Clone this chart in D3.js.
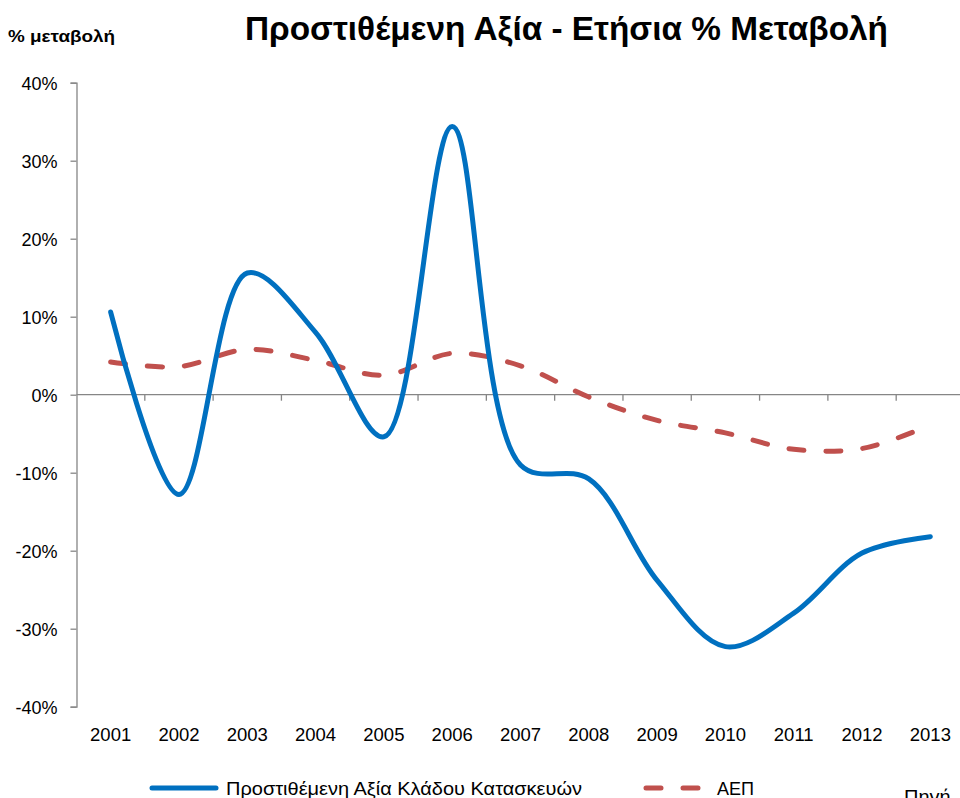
<!DOCTYPE html>
<meta charset="utf-8">
<style>
body { margin: 0; background: #fff; }
text { font-family: "Liberation Sans", Arial, sans-serif; fill: #000; }
.axis path, .axis line { stroke: #868686; stroke-width: 1.3px; }
.line { fill: none; stroke-width: 5px; stroke-linecap: round; stroke-linejoin: round; }
</style>
<body>
<script src="https://d3js.org/d3.v7.min.js"></script>
<script>

// data
var years = ["2001","2002","2003","2004","2005","2006","2007","2008","2009","2010","2011","2012","2013"];
var constructionVA = [10.6, -12.8, 15.6, 8.0, -5.4, 34.4, -9.0, -10.8, -23.8, -32.3, -28.0, -20.3, -18.2];
var gdp = [4.2, 3.6, 5.8, 4.4, 2.5, 5.3, 3.7, -0.3, -3.3, -4.9, -7.0, -6.9, -3.9];
var yTicks = [-40, -30, -20, -10, 0, 10, 20, 30, 40];
var seriesNames = ["Προστιθέμενη Αξία Κλάδου Κατασκευών", "ΑΕΠ"];

var width = 960, height = 798;

var svg = d3.select("body").append("svg")
    .attr("width", width)
    .attr("height", height);

// scales
var x = d3.scaleBand().domain(years).range([76.5, 964.5]);
var y = d3.scaleLinear().domain([-40, 40]).range([706.7, 82.7]);
var xc = function(d) { return x(d) + x.bandwidth() / 2; };

// title
svg.append("text")
    .attr("x", 245).attr("y", 40)
    .attr("textLength", 643).attr("lengthAdjust", "spacingAndGlyphs")
    .style("font-size", "33px").style("font-weight", "bold")
    .text("Προστιθέμενη Αξία - Ετήσια % Μεταβολή");

svg.append("text")
    .attr("x", 8).attr("y", 42)
    .attr("textLength", 107).attr("lengthAdjust", "spacingAndGlyphs")
    .style("font-size", "16px").style("font-weight", "bold")
    .text("% μεταβολή");

// y axis
var yAxis = svg.append("g")
    .attr("class", "axis")
    .attr("transform", "translate(76.5,0)")
    .call(d3.axisLeft(y).tickValues(yTicks).tickSize(6).tickSizeOuter(6)
        .tickFormat(function(d) { return d + "%"; }));
yAxis.selectAll("text").style("font-size", "18px").attr("x", -19).attr("dy", "0.35em");

// x axis on the zero line
var xAxis = svg.append("g")
    .attr("class", "axis")
    .attr("transform", "translate(0," + y(0) + ")");
xAxis.append("path").attr("d", "M76.5,0H964.5");
xAxis.selectAll("line.tk")
    .data(years.slice(1))
  .enter().append("line")
    .attr("x1", function(d) { return x(d); })
    .attr("x2", function(d) { return x(d); })
    .attr("y1", 0).attr("y2", 6);

// year labels at bottom
svg.append("g").selectAll("text")
    .data(years)
  .enter().append("text")
    .attr("x", xc)
    .attr("y", 741)
    .attr("text-anchor", "middle")
    .style("font-size", "18.5px")
    .text(function(d) { return d; });

// lines
var line = d3.line()
    .x(function(d, i) { return xc(years[i]); })
    .y(function(d) { return y(d); })
    .curve(d3.curveCatmullRom.alpha(0.5));

svg.append("path")
    .datum(gdp)
    .attr("class", "line")
    .attr("stroke", "#C0504D")
    .attr("stroke-dasharray", "15,22")
    .attr("d", line);

svg.append("path")
    .datum(constructionVA)
    .attr("class", "line")
    .attr("stroke", "#0070C0")
    .attr("d", line);

// legend
var leg = svg.append("g");
leg.append("line")
    .attr("x1", 152).attr("x2", 216).attr("y1", 788).attr("y2", 788)
    .attr("class", "line").attr("stroke", "#0070C0");
leg.append("text")
    .attr("x", 226).attr("y", 795)
    .attr("textLength", 356).attr("lengthAdjust", "spacingAndGlyphs")
    .style("font-size", "18px")
    .text(seriesNames[0]);
leg.append("line")
    .attr("x1", 646).attr("x2", 706).attr("y1", 788).attr("y2", 788)
    .attr("class", "line").attr("stroke", "#C0504D")
    .attr("stroke-dasharray", "15,22");
leg.append("text")
    .attr("x", 717).attr("y", 795)
    .style("font-size", "18px")
    .text(seriesNames[1]);

svg.append("text")
    .attr("x", 904).attr("y", 804)
    .style("font-size", "20px")
    .text("Πηγή");

</script>
</body>
